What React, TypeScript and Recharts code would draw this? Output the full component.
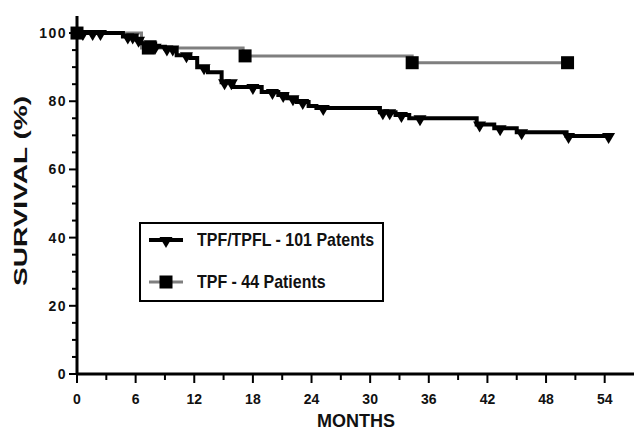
import React from 'react';
import { LineChart, Line, XAxis, YAxis, Legend } from 'recharts';

// TPF/TPFL - 101 patients (black, down triangles = censored)
const blackMonths = [0, 0.6, 1.6, 2.4, 4.7, 5.2, 5.7, 6.1, 6.3, 6.6, 7.5, 8.3, 8.0, 9.0, 9.2, 9.8, 10.2, 11.2, 11.6, 12.3, 13.0, 13.4, 14.8, 15.1, 15.8, 16.0, 18.0, 18.9, 20.0, 20.6, 21.1, 21.5, 22.1, 22.5, 23.1, 23.7, 24.5, 25.2, 31.0, 31.3, 32.0, 32.6, 33.2, 34.0, 35.1, 40.9, 41.2, 42.7, 43.3, 45.0, 45.5, 50.1, 50.3, 54.4];
const blackSurvival = [100, 100, 100, 100, 99, 99, 99, 98, 98, 97, 97, 96, 96, 95.5, 95.5, 95.5, 93.5, 93.5, 92.7, 90, 90, 88.5, 85.6, 85.6, 85.6, 84.2, 84.2, 82.7, 82.7, 81.8, 81.8, 80.9, 80.9, 79.8, 79.8, 78.6, 78.0, 78.0, 76.8, 76.8, 76.8, 76.0, 76.0, 75.0, 75.0, 73.2, 73.2, 72.1, 72.1, 70.9, 70.9, 69.8, 69.8, 69.8];
const blackCensored = [0, 1, 1, 1, 0, 1, 1, 0, 1, 0, 1, 0, 1, 0, 1, 1, 0, 1, 0, 0, 1, 0, 0, 1, 1, 0, 1, 0, 1, 0, 1, 0, 1, 0, 1, 0, 0, 1, 0, 1, 1, 0, 1, 0, 1, 0, 1, 0, 1, 0, 1, 0, 1, 1];

// TPF - 44 patients (gray, squares = censored)
const grayMonths = [0, 6.6, 7.3, 17.0, 17.2, 34.3, 50.2];
const graySurvival = [100, 95.6, 95.6, 93.3, 93.3, 91.3, 91.3];
const grayCensored = [1, 0, 1, 0, 1, 1, 1];

const seriesNames = ['TPF/TPFL - 101 Patents', 'TPF - 44 Patients'];
const xTicks = [0, 3, 6, 9, 12, 15, 18, 21, 24, 27, 30, 33, 36, 39, 42, 45, 48, 51, 54];
const xMajorStep = 6;
const yTicks = [0, 5, 10, 15, 20, 25, 30, 35, 40, 45, 50, 55, 60, 65, 70, 75, 80, 85, 90, 95, 100];
const yMajorStep = 20;

const blackData = blackMonths
  .map((m, i) => ({ x: m, y: blackSurvival[i], c: blackCensored[i] === 1 }))
  .sort((a, b) => a.x - b.x);
const grayData = grayMonths.map((m, i) => ({ x: m, y: graySurvival[i], c: grayCensored[i] === 1 }));

const FONT = '"Liberation Sans", Arial, Helvetica, sans-serif';
const W = 638;
const H = 432;
const AXIS_X = 77;
const AXIS_Y = 374;
const BLACK = '#000000';
const GRAY = '#7f7f7f';

const Tri = ({ cx, cy }: { cx: number; cy: number }) => (
  <path d={`M${cx - 6.5},${cy - 3} L${cx + 6.5},${cy - 3} L${cx},${cy + 8} Z`} fill={BLACK} />
);
const Sq = ({ cx, cy }: { cx: number; cy: number }) => (
  <rect x={cx - 6.5} y={cy - 6.5} width={13} height={13} fill={BLACK} />
);

const blackDot = (props: any) => {
  const { cx, cy, payload, index } = props;
  if (!payload || !payload.c) return <g key={`b${index}`} />;
  return <Tri key={`b${index}`} cx={cx} cy={cy} />;
};
const grayDot = (props: any) => {
  const { cx, cy, payload, index } = props;
  if (!payload || !payload.c) return <g key={`g${index}`} />;
  return <Sq key={`g${index}`} cx={cx} cy={cy} />;
};

const XTick = (props: any) => {
  const { x, payload } = props;
  const v = payload.value;
  const major = v % xMajorStep === 0;
  return (
    <g>
      <line x1={x} x2={x} y1={AXIS_Y} y2={AXIS_Y + (major ? 9 : 6)} stroke={BLACK} strokeWidth={2} />
      {major && (
        <text x={x} y={AXIS_Y + 30} textAnchor="middle" fontFamily={FONT} fontWeight="bold" fontSize={14} fill="#111">
          {v}
        </text>
      )}
    </g>
  );
};

const YTick = (props: any) => {
  const { y, payload } = props;
  const v = payload.value;
  const major = v % yMajorStep === 0;
  return (
    <g>
      <line x1={AXIS_X - (major ? 8 : 5)} x2={AXIS_X} y1={y} y2={y} stroke={BLACK} strokeWidth={2} />
      {major && (
        <text x={AXIS_X - 10} y={y + 5} textAnchor="end" fontFamily={FONT} fontWeight="bold" fontSize={14} letterSpacing={1.5} fill="#111">
          {v}
        </text>
      )}
    </g>
  );
};

const XTitle = () => (
  <text x={356} y={427} textAnchor="middle" fontFamily={FONT} fontWeight="bold" fontSize={18} fill="#111">
    MONTHS
  </text>
);

const YTitle = () => (
  <text
    transform="translate(27,191) rotate(-90)"
    x={0}
    y={0}
    textAnchor="middle"
    fontFamily={FONT}
    fontWeight="bold"
    fontSize={18}
    fill="#111"
    textLength={190}
    lengthAdjust="spacingAndGlyphs"
  >
    SURVIVAL  (%)
  </text>
);

const LegendBox = () => (
  <div
    style={{
      width: 245,
      height: 80,
      border: '2.5px solid #000',
      boxSizing: 'border-box',
      position: 'relative',
      background: '#fff',
      fontFamily: FONT,
      fontWeight: 'bold',
      fontSize: 19,
      color: '#111',
    }}
  >
    {seriesNames.map((name, i) => (
      <div
        key={name}
        style={{ position: 'absolute', left: 8, top: i === 0 ? 4 : 46, height: 24, display: 'flex', alignItems: 'center', whiteSpace: 'nowrap' }}
      >
        <svg width={34} height={24} style={{ display: 'block' }}>
          <line x1={0} x2={34} y1={12} y2={12} stroke={i === 0 ? BLACK : GRAY} strokeWidth={i === 0 ? 4 : 3} />
          {i === 0 ? <Tri cx={17} cy={12} /> : <Sq cx={17} cy={12} />}
        </svg>
        <span
          style={{
            marginLeft: 14,
            lineHeight: '24px',
            display: 'inline-block',
            transform: 'scaleX(0.84)',
            transformOrigin: 'left center',
          }}
        >
          {name}
        </span>
      </div>
    ))}
  </div>
);

export default function App() {
  return (
    <div style={{ position: 'absolute', left: 0, top: 0, width: W, height: H, background: '#fff' }}>
      <LineChart width={W} height={H} margin={{ top: 16, right: 4, bottom: 0, left: 0 }}>
        <XAxis
          type="number"
          dataKey="x"
          domain={[0, 57]}
          ticks={xTicks}
          interval={0}
          height={58}
          axisLine={{ stroke: BLACK, strokeWidth: 3 }}
          tickLine={false}
          tick={XTick}
          label={<XTitle />}
        />
        <YAxis
          type="number"
          dataKey="y"
          domain={[0, 105]}
          ticks={yTicks}
          interval={0}
          width={77}
          axisLine={{ stroke: BLACK, strokeWidth: 3 }}
          tickLine={false}
          tick={YTick}
          label={<YTitle />}
        />
        <Legend
          layout="horizontal"
          verticalAlign="middle"
          align="center"
          content={() => <LegendBox />}
          wrapperStyle={{ position: 'absolute', left: 139, top: 222, width: 245, height: 80 }}
        />
        <Line
          data={grayData}
          dataKey="y"
          name={seriesNames[1]}
          type="stepAfter"
          stroke={GRAY}
          strokeWidth={3}
          dot={grayDot}
          activeDot={false}
          isAnimationActive={false}
        />
        <Line
          data={blackData}
          dataKey="y"
          name={seriesNames[0]}
          type="stepAfter"
          stroke={BLACK}
          strokeWidth={4}
          dot={blackDot}
          activeDot={false}
          isAnimationActive={false}
        />
      </LineChart>
    </div>
  );
}
